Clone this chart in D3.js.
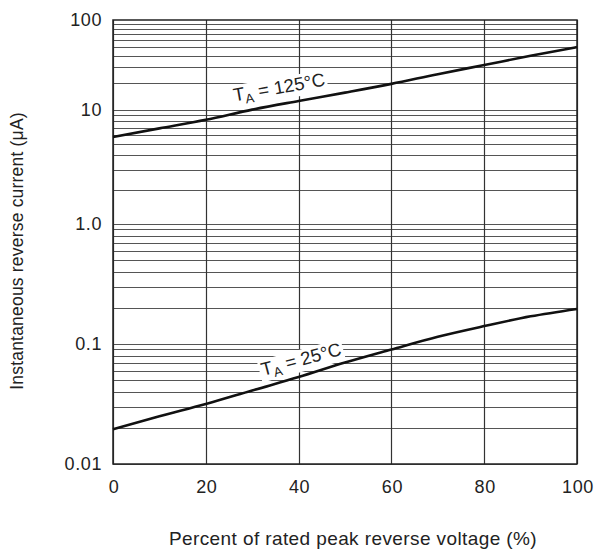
<!DOCTYPE html>
<html>
<head>
<meta charset="utf-8">
<script src="https://cdn.jsdelivr.net/npm/d3@7"></script>
<style>
  body { margin: 0; background: #fff; }
  svg text { font-family: "Liberation Sans", Arial, sans-serif; fill: #222; }
</style>
</head>
<body>
<div id="chart"></div>
<script>
// percent of rated peak reverse voltage
const voltage = [0, 10, 20, 30, 40, 50, 60, 70, 80, 90, 100];
// instantaneous reverse current (uA)
const current125 = [5.8, 6.9, 8.2, 10.1, 12.6, 15.6, 19.5, 25, 31.6, 40, 50];
const current25 = [0.0195, 0.025, 0.0316, 0.041, 0.053, 0.07, 0.09, 0.115, 0.141, 0.17, 0.196];

const xTicks = [0, 20, 40, 60, 80, 100];
const yTicks = [0.01, 0.1, 1, 10, 100];
const yTickLabels = ['0.01', '0.1', '1.0', '10', '100'];

const W = 595, H = 550;
const plotL = 113, plotR = 577, plotT = 20, plotB = 464;

const svg = d3.select('#chart').append('svg')
  .attr('width', W).attr('height', H);

const x = d3.scaleLinear().domain([0, 100]).range([plotL, plotR]);
// the printed chart has uneven decades, so the log scale is piecewise
const y = d3.scaleLog()
  .domain([0.01, 0.1, 1, 10, 100])
  .range([plotB, 344, 224, 110, plotT]);

// horizontal grid (1..9 per decade)
const minor = d3.range(-2, 2).flatMap(e => d3.range(1, 10).map(m => m * Math.pow(10, e)));
svg.append('g')
  .selectAll('line')
  .data(minor)
  .join('line')
  .attr('x1', plotL).attr('x2', plotR)
  .attr('y1', d => Math.round(y(d)) + 0.5)
  .attr('y2', d => Math.round(y(d)) + 0.5)
  .attr('stroke', '#555')
  .attr('stroke-width', 1.2);

// vertical grid
svg.append('g')
  .selectAll('line')
  .data(xTicks)
  .join('line')
  .attr('x1', d => Math.round(x(d)) + 0.5)
  .attr('x2', d => Math.round(x(d)) + 0.5)
  .attr('y1', plotT).attr('y2', plotB)
  .attr('stroke', '#333')
  .attr('stroke-width', 1.2);

// frame
svg.append('rect')
  .attr('x', plotL).attr('y', plotT)
  .attr('width', plotR - plotL).attr('height', plotB - plotT)
  .attr('fill', 'none').attr('stroke', '#222').attr('stroke-width', 1.5);

// tick labels
svg.append('g')
  .selectAll('text')
  .data(yTicks)
  .join('text')
  .attr('x', plotL - 11)
  .attr('y', d => y(d))
  .attr('dy', '0.36em')
  .attr('text-anchor', 'end')
  .style('font-size', '18px')
  .style('letter-spacing', '0.6px')
  .text((d, i) => yTickLabels[i]);

svg.append('g')
  .selectAll('text')
  .data(xTicks)
  .join('text')
  .attr('x', d => x(d) + 1)
  .attr('y', 493)
  .attr('text-anchor', 'middle')
  .style('font-size', '18px')
  .style('letter-spacing', '0.6px')
  .text(d => d);

// axis titles
svg.append('text')
  .attr('transform', 'translate(23,251)rotate(-90)')
  .attr('text-anchor', 'middle')
  .style('font-size', '17.5px')
  .style('letter-spacing', '0.2px')
  .text('Instantaneous reverse current (\u03bcA)');

svg.append('text')
  .attr('x', 353).attr('y', 545)
  .attr('text-anchor', 'middle')
  .style('font-size', '19px')
  .style('letter-spacing', '0.4px')
  .text('Percent of rated peak reverse voltage (%)');

// curve labels with white knockout (drawn before the curves so the lines stay whole)
function curveLabel(cx, cy, angle, temp) {
  const g = svg.append('g').attr('transform', `translate(${cx},${cy})rotate(${angle})`);
  const bg = g.append('rect').attr('fill', '#fff');
  const t = g.append('text')
    .attr('text-anchor', 'middle')
    .attr('dy', '0.36em')
    .style('font-size', '18.5px');
  t.append('tspan').text('T');
  t.append('tspan').attr('dy', '4').style('font-size', '13px').text('A');
  t.append('tspan').attr('dy', '-4').text(` = ${temp}\u00b0C`);
  const b = t.node().getBBox();
  bg.attr('x', b.x - 2).attr('y', b.y + 1).attr('width', b.width + 4).attr('height', b.height - 2);
}
curveLabel(279, 87, -10, 125);
curveLabel(301, 359, -15, 25);

// curves
const line = d3.line()
  .x(d => x(d[0]))
  .y(d => y(d[1]))
  .curve(d3.curveMonotoneX);

[current125, current25].forEach(series => {
  svg.append('path')
    .datum(voltage.map((v, i) => [v, series[i]]))
    .attr('d', line)
    .attr('fill', 'none')
    .attr('stroke', '#111')
    .attr('stroke-width', 2.6);
});
</script>
</body>
</html>
